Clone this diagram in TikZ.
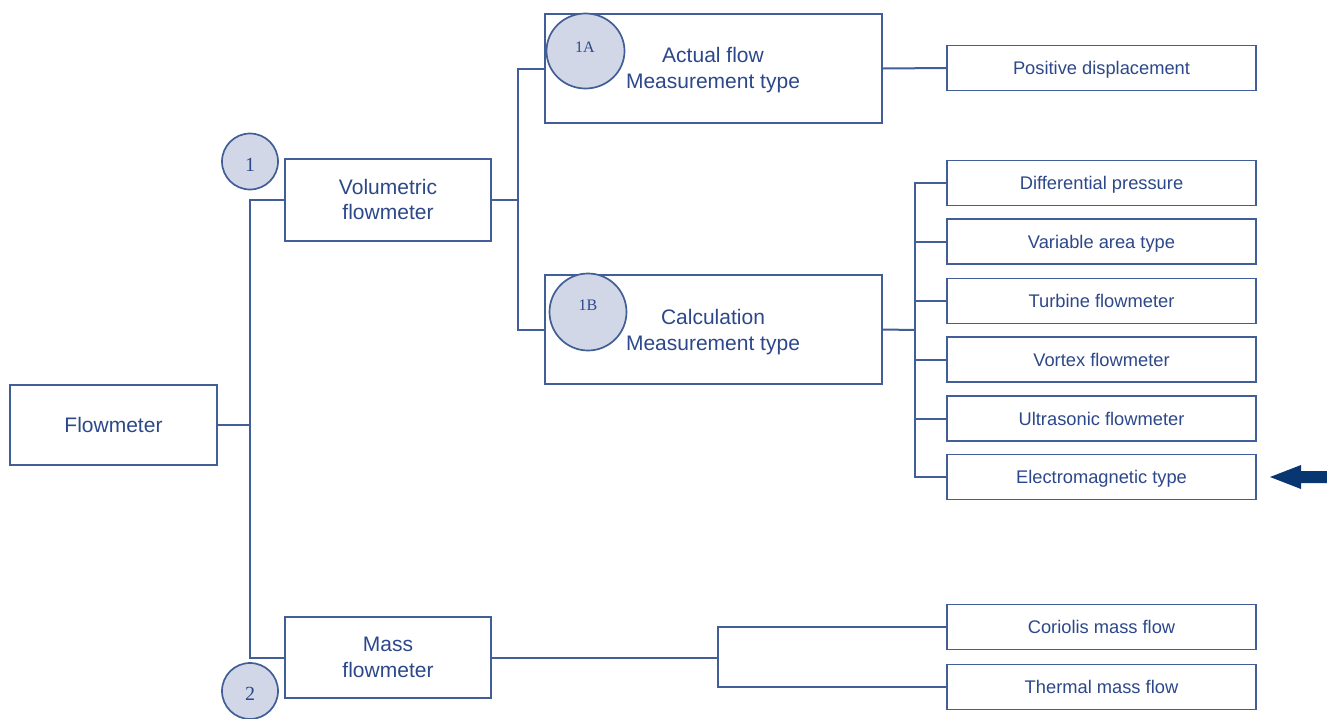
\documentclass[tikz,border=0pt]{standalone}
\usepackage{fontspec}
\usetikzlibrary{shapes.geometric}
\setmainfont{Liberation Sans}
\newfontfamily\serifnum{Liberation Serif}
\definecolor{lineblue}{RGB}{66,94,150}
\definecolor{textblue}{RGB}{45,72,138}
\definecolor{circfill}{RGB}{209,215,230}
\definecolor{arrowblue}{RGB}{8,54,112}
\begin{document}
\begin{tikzpicture}[x=1pt,y=-1pt,
  box/.style={draw=lineblue,line width=2pt,fill=white,text=textblue,align=center,inner sep=0pt,
    font=\fontsize{21}{25.5}\selectfont},
  leaf/.style={draw=lineblue,line width=1.9pt,fill=white,text=textblue,inner sep=0pt,
    minimum width=309pt,minimum height=45pt,text height=13pt,text depth=0pt,
    font=\fontsize{18.3}{22}\selectfont},
  badge/.style={circle,draw=lineblue,line width=1.7pt,fill=circfill,text=textblue,inner sep=0pt,
    text height=19pt,text depth=0pt,font=\serifnum\fontsize{20}{22}\selectfont},
  tag/.style={text=textblue,font=\serifnum\fontsize{16}{18}\selectfont},
  conn/.style={draw=lineblue,line width=2pt}]
\useasboundingbox (0,0) rectangle (1327,718);

% main boxes
\node[box,minimum width=207pt,minimum height=80pt] (flow) at (113.5,425) {Flowmeter};
\node[box,minimum width=206pt,minimum height=82pt] (vol) at (388,199.5) {Volumetric\\flowmeter};
\node[box,minimum width=206pt,minimum height=81pt] (mass) at (388,657.5) {Mass\\flowmeter};
\node[box,minimum width=337pt,minimum height=109pt] (act) at (713.5,68.5) {};
\node[box,minimum width=337pt,minimum height=109pt] (calc) at (713.5,329.5) {};
\node[text=textblue,align=center,font=\fontsize{21}{26}\selectfont] (actt) at (713,70) {Actual flow\\Measurement type};
\node[text=textblue,align=center,font=\fontsize{21}{26}\selectfont] (calct) at (713,332) {Calculation\\Measurement type};

% leaves
\node[leaf] (pd) at (1101.5,68) {Positive displacement};
\node[leaf] (dp) at (1101.5,183) {Differential pressure};
\node[leaf] (va) at (1101.5,241.5) {Variable area type};
\node[leaf] (tf) at (1101.5,301) {Turbine flowmeter};
\node[leaf] (vf) at (1101.5,359.5) {Vortex flowmeter};
\node[leaf] (uf) at (1101.5,418.5) {Ultrasonic flowmeter};
\node[leaf] (em) at (1101.5,477) {Electromagnetic type};
\node[leaf] (cm) at (1101.5,627) {Coriolis mass flow};
\node[leaf] (tm) at (1101.5,687) {Thermal mass flow};

% junction coordinates
\coordinate (j1) at (250,425);
\coordinate (j2) at (518,199.5);
\coordinate (j3) at (915,330);
\coordinate (j4) at (718,657.5);

% connectors
\draw[conn] (flow.east) -- (j1);
\draw[conn] (vol.west) -| (j1);
\draw[conn] (mass.west) -| (j1);
\draw[conn] (vol.east) -- (j2);
\draw[conn] (act.west) -| (j2);
\draw[conn] (calc.west) -| (j2);
\draw[conn] (act.east) -- (pd.west);
\draw[conn] (calc.east) -- (j3);
\foreach \n in {dp,va,tf,vf,uf,em}{\draw[conn] (\n.west) -| (j3);}
\draw[conn] (mass.east) -- (j4);
\draw[conn] (cm.west) -| (j4);
\draw[conn] (tm.west) -| (j4);

% badges
\node[badge,minimum size=56pt] (b1) at (250,161.5) {1};
\node[badge,minimum size=56pt] (b2) at (250,691) {2};
\node[draw=lineblue,line width=1.7pt,fill=circfill,ellipse,inner sep=0pt,minimum width=78pt,minimum height=75pt] (b1a) at (585.5,51) {};
\node[tag] (b1at) at (585,47) {1A};
\node[badge,minimum size=77pt] (b1b) at (588,312) {};
\node[tag] (b1bt) at (588,305) {1B};

% pointer arrow
\fill[arrowblue] (1270,477) -- (1301,465) -- (1301,471) -- (1327,471) -- (1327,483) -- (1301,483) -- (1301,489) -- cycle;
\end{tikzpicture}
\end{document}
